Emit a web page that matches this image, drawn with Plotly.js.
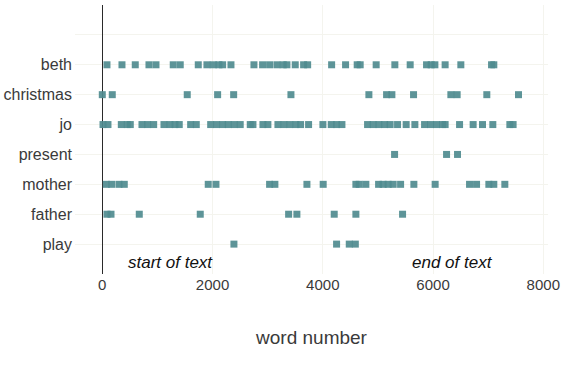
<!DOCTYPE html>
<html>
<head>
<meta charset="utf-8">
<script src="https://cdn.plot.ly/plotly-3.0.1.min.js"></script>
<style>html,body{margin:0;padding:0;background:#fff;}#chart{width:571px;height:370px;}</style>
</head>
<body>
<div id="chart"></div>
<script>
// Categories (bottom to top)
const words = ["play", "father", "mother", "present", "jo", "christmas", "beth"];

// Word positions for each word (word number in text)
const beth = [85, 357, 598, 847, 974, 1287, 1414, 1741, 1898, 2013, 2116, 2183, 2334, 2751, 2908, 3035, 3168, 3282, 3349, 3500, 3652, 3725, 4160, 4413, 4624, 4678, 4968, 5307, 5585, 5882, 5966, 6033, 6219, 6504, 7061, 7102];
const christmas = [0, 181, 1541, 2092, 2383, 3422, 4836, 5157, 5253, 5646, 6323, 6437, 6975, 7550];
const jo = [13, 103, 345, 453, 508, 720, 823, 932, 1119, 1228, 1319, 1396, 1603, 1705, 1966, 2074, 2183, 2285, 2393, 2502, 2684, 2733, 2914, 3004, 3186, 3295, 3403, 3512, 3597, 3742, 4002, 4153, 4250, 4347, 4812, 4914, 5017, 5121, 5222, 5356, 5512, 5670, 5846, 5955, 6063, 6172, 6219, 6481, 6727, 6897, 7084, 7393, 7452];
const present = [5302, 6245, 6444];
const mother = [73, 170, 303, 399, 1922, 2062, 3035, 3131, 3712, 4007, 4600, 4660, 4781, 5012, 5095, 5186, 5277, 5411, 5652, 6038, 6662, 6789, 7012, 7102, 7302];
const father = [85, 158, 671, 1777, 3380, 3530, 4207, 4600, 5447];
const play = [2388, 4250, 4480, 4590];

const positions = {beth, christmas, jo, present, mother, father, play};

const xTicks = [0, 2000, 4000, 6000, 8000];
const labels = ["start of text", "end of text"];
const labelX = [1240, 6360];

const traces = words.map((w, i) => ({
  type: "scatter",
  mode: "markers",
  x: positions[w],
  y: positions[w].map(() => i),
  marker: {symbol: "square", size: 7, color: "#4f8b8f", opacity: 0.92, line: {width: 0}},
  hoverinfo: "x+name",
  name: w,
  showlegend: false
}));

const font = {family: "Liberation Sans, Arial, sans-serif", color: "#3a3a3a"};

const layout = {
  width: 571,
  height: 370,
  margin: {l: 75, r: 23, t: 5, b: 96},
  paper_bgcolor: "#ffffff",
  plot_bgcolor: "#ffffff",
  font: font,
  showlegend: false,
  xaxis: {
    range: [-495, 8085],
    tickvals: xTicks,
    ticktext: xTicks.map(String),
    tickfont: {size: 15, color: "#3a3a3a"},
    showgrid: true,
    gridcolor: "#f4f4ee",
    gridwidth: 1,
    zeroline: true,
    zerolinecolor: "#2a2a2a",
    zerolinewidth: 1.3,
    showline: false,
    ticks: "",
    title: {text: "word number", font: {size: 19, color: "#3a3a3a"}, standoff: 38},
    automargin: false
  },
  yaxis: {
    range: [-1, 8],
    tickvals: [0, 1, 2, 3, 4, 5, 6, 7],
    ticktext: words.concat([""]),
    tickfont: {size: 16, color: "#3a3a3a"},
    showgrid: true,
    gridcolor: "#f4f4ee",
    gridwidth: 1,
    zeroline: false,
    showline: false,
    ticks: "",
    ticklabelstandoff: 2,
    automargin: false
  },
  annotations: labels.map((t, i) => ({
    x: labelX[i],
    y: -0.6,
    xref: "x",
    yref: "y",
    text: "<i>" + t + "</i>",
    showarrow: false,
    font: {size: 17, color: "#111111", family: "Liberation Sans, Arial, sans-serif"}
  }))
};

Plotly.newPlot("chart", traces, layout, {displayModeBar: false, staticPlot: true});
</script>
</body>
</html>
